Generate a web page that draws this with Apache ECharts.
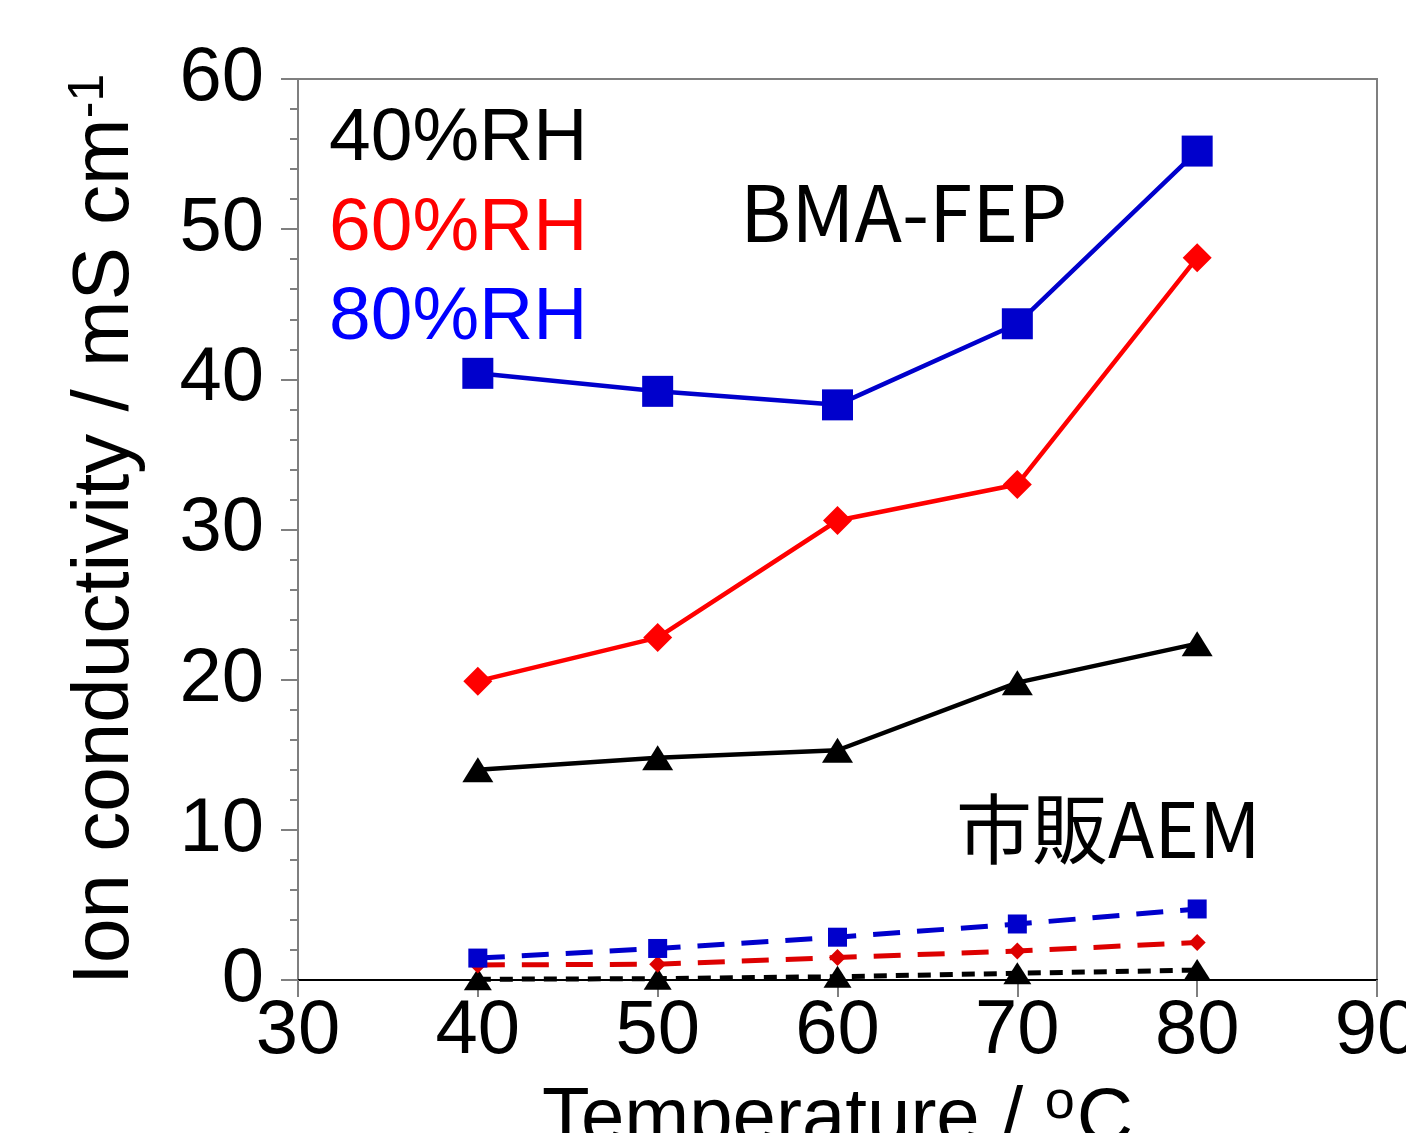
<!DOCTYPE html>
<html><head><meta charset="utf-8">
<script src="https://cdn.jsdelivr.net/npm/echarts@6/dist/echarts.min.js"></script>
<style>html,body{margin:0;padding:0;background:#fff}#c{width:1406px;height:1133px}</style>
</head><body><div id="c"></div>
<script>
const temps = [40, 50, 60, 70, 80];
const xTicks = [30, 40, 50, 60, 70, 80, 90];
const yTicks = [0, 10, 20, 30, 40, 50, 60];
// BMA-FEP membrane
const bma40 = [14.0, 14.8, 15.3, 19.8, 22.4];
const bma60 = [19.9, 22.8, 30.6, 33.0, 48.1];
const bma80 = [40.4, 39.2, 38.3, 43.7, 55.2];
// commercial AEM (市販AEM)
const aem40 = [0.05, 0.09, 0.22, 0.45, 0.66];
const aem60 = [1.0, 1.05, 1.5, 1.93, 2.5];
const aem80 = [1.46, 2.1, 2.85, 3.73, 4.73];
const legendLabels = ['40%RH', '60%RH', '80%RH'];
const groupLabels = ['BMA-FEP', '市販AEM'];

const pts = arr => temps.map((t, i) => [t, arr[i]]);
const GRAY = '#7f7f7f';
const LF = 'Liberation Sans, Arial, sans-serif';
const JF = '"Noto Sans CJK JP", sans-serif';

function solid(name, arr, color, symbol, size) {
  return { name, type: 'line', data: pts(arr), symbol, symbolSize: size,
    lineStyle: { color, width: 4.5 }, itemStyle: { color }, z: 3 };
}
function dashed(name, arr, color, symbol, size, dash, w) {
  return { name, type: 'line', data: pts(arr), symbol, symbolSize: size,
    lineStyle: { color, width: w, type: dash }, itemStyle: { color }, z: 2 };
}

const chart = echarts.init(document.getElementById('c'));
chart.setOption({
  animation: false,
  backgroundColor: '#fff',
  grid: { left: 298, right: 29, top: 79, bottom: 153, containLabel: false, outerBoundsMode: 'none',
    show: true, borderColor: GRAY, borderWidth: 2 },
  xAxis: {
    type: 'value', min: 30, max: 90, interval: 10,
    axisLine: { show: true, lineStyle: { color: '#000', width: 2 } },
    axisTick: { show: true, length: 17, lineStyle: { color: GRAY, width: 2 } },
    splitLine: { show: false },
    axisLabel: { fontFamily: LF, fontSize: 76, color: '#000', margin: 14,
      formatter: v => xTicks.includes(v) ? String(v) : '' },
    name: 'Temperature / {sup|o}C', nameLocation: 'middle', nameGap: 96,
    nameTextStyle: { fontFamily: LF, fontSize: 78, color: '#000',
      rich: { sup: { fontFamily: LF, fontSize: 54, color: '#000', verticalAlign: 'top', padding: [0, 2, 34, 0] } } }
  },
  yAxis: {
    type: 'value', min: 0, max: 60, interval: 10,
    axisLine: { show: true, lineStyle: { color: GRAY, width: 2 } },
    axisTick: { show: true, length: 17, lineStyle: { color: GRAY, width: 2 } },
    minorTick: { show: true, splitNumber: 5, length: 8, lineStyle: { color: GRAY, width: 2 } },
    splitLine: { show: false },
    axisLabel: { fontFamily: LF, fontSize: 76, color: '#000', margin: 34,
      formatter: v => yTicks.includes(v) ? String(v) : '' },
    name: 'Ion conductivity / mS cm{sup|-1}', nameLocation: 'middle', nameGap: 150,
    nameTextStyle: { fontFamily: LF, fontSize: 80, color: '#000',
      rich: { sup: { fontFamily: LF, fontSize: 50, color: '#000', padding: [0, 0, 34, 0] } } }
  },
  series: [
    dashed('AEM 40%RH', aem40, '#000000', 'triangle', [28, 22], [13, 9], 5),
    dashed('AEM 60%RH', aem60, '#dd0000', 'diamond', [17, 17], [27, 17], 5),
    dashed('AEM 80%RH', aem80, '#0000cc', 'rect', [19, 19], [27, 17], 5),
    solid('BMA-FEP 40%RH', bma40, '#000000', 'triangle', [31, 25]),
    solid('BMA-FEP 60%RH', bma60, '#ff0000', 'diamond', [29, 29]),
    solid('BMA-FEP 80%RH', bma80, '#0000cc', 'rect', [31, 31])
  ],
  graphic: [
    { type: 'text', x: 329, y: 139, z: 10, style: { text: legendLabels[0], fill: '#000', font: '75px ' + LF, verticalAlign: 'middle' } },
    { type: 'text', x: 329, y: 229, z: 10, style: { text: legendLabels[1], fill: '#ff0000', font: '75px ' + LF, verticalAlign: 'middle' } },
    { type: 'text', x: 329, y: 318, z: 10, style: { text: legendLabels[2], fill: '#0000ff', font: '75px ' + LF, verticalAlign: 'middle' } },
    { type: 'text', x: 740, y: 212, z: 10, style: { text: groupLabels[0], fill: '#000', font: '78px ' + JF, verticalAlign: 'middle' } },
    { type: 'text', x: 956, y: 829, z: 10, style: { text: groupLabels[1], fill: '#000', font: '76px ' + JF, verticalAlign: 'middle' } }
  ]
});
</script>
</body></html>
